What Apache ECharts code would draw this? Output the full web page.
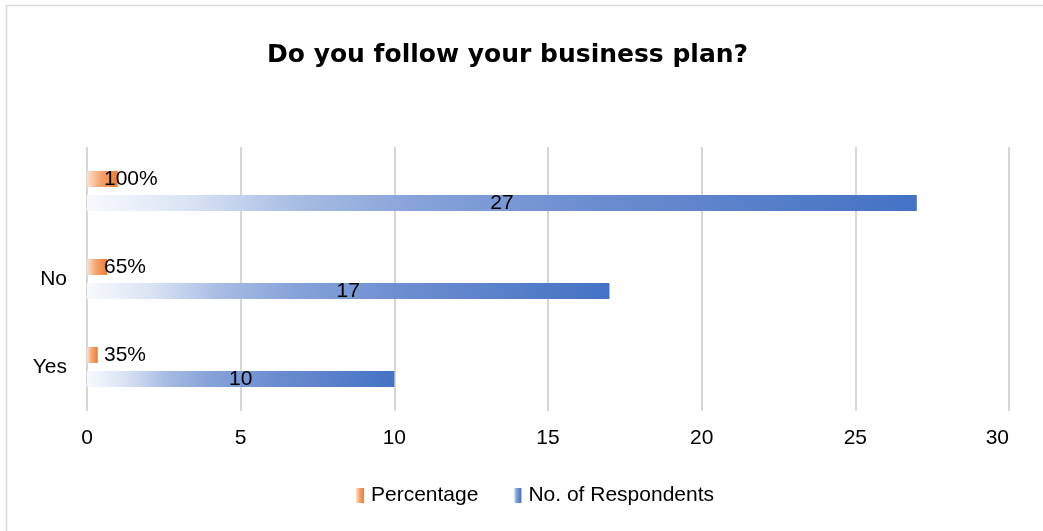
<!DOCTYPE html>
<html>
<head>
<meta charset="utf-8">
<script src="https://cdn.jsdelivr.net/npm/echarts@6/dist/echarts.min.js"></script>
<style>
  html, body { margin: 0; padding: 0; background: #fff; }
  #chart { width: 1043px; height: 531px; }
</style>
</head>
<body>
<div id="chart"></div>
<script>
// Survey answers to "Do you follow your business plan?"
const categories = ['Yes', 'No', ''];
const percentage = [0.35, 0.65, 1.0];
const respondents = [10, 17, 27];
const xTicks = { min: 0, max: 30, interval: 5 };

const FONT = '"Liberation Sans", Arial, sans-serif';

const blueFill = new echarts.graphic.LinearGradient(0, 0, 1, 0, [
  { offset: 0, color: '#f7f9fd' },
  { offset: 0.12, color: '#dbe4f4' },
  { offset: 0.25, color: '#a9bde4' },
  { offset: 0.4, color: '#86a2d9' },
  { offset: 0.6, color: '#6d8ed0' },
  { offset: 1, color: '#4472c4' }
]);
const orangeFill = new echarts.graphic.LinearGradient(0, 0, 1, 0, [
  { offset: 0, color: '#fbe2d0' },
  { offset: 0.45, color: '#f3a46e' },
  { offset: 1, color: '#ed7d31' }
]);

const chart = echarts.init(document.getElementById('chart'));
chart.setOption({
  animation: false,
  backgroundColor: '#ffffff',
  graphic: [{
    type: 'rect',
    shape: { x: 6.5, y: 5.5, width: 1060, height: 560 },
    style: { fill: 'none', stroke: '#d9d9d9', lineWidth: 1.5 },
    silent: true
  }],
  title: {
    text: 'Do you follow your business plan?',
    left: 262,
    top: 38,
    textStyle: { fontFamily: '"DejaVu Sans", sans-serif', fontWeight: 'bold', fontSize: 25, color: '#000' }
  },
  grid: { left: 87, right: 34, top: 147, bottom: 120, containLabel: false },
  legend: {
    data: ['Percentage', 'No. of Respondents'],
    bottom: 20,
    left: 351,
    icon: 'rect',
    itemWidth: 8,
    itemHeight: 15,
    itemGap: 35,
    textStyle: { fontFamily: FONT, fontSize: 21, color: '#000', padding: [0, 0, 0, 2] }
  },
  xAxis: {
    type: 'value',
    min: xTicks.min,
    max: xTicks.max,
    interval: xTicks.interval,
    axisLine: { show: false },
    axisTick: { show: false },
    splitLine: { show: true, lineStyle: { color: '#d6d6d6', width: 2 } },
    axisLabel: { fontFamily: FONT, fontSize: 21, color: '#000', margin: 17, alignMaxLabel: 'right' }
  },
  yAxis: {
    type: 'category',
    data: categories,
    axisLine: { show: false },
    axisTick: { show: false },
    axisLabel: { fontFamily: FONT, fontSize: 21, color: '#000', margin: 20 }
  },
  series: [
    {
      name: 'Percentage',
      type: 'bar',
      data: percentage,
      barWidth: 16,
      barGap: '50%',
      itemStyle: { color: orangeFill },
      label: {
        show: true,
        position: [17, 8],
        verticalAlign: 'middle',
        align: 'left',
        fontFamily: FONT,
        fontSize: 21,
        color: '#000',
        formatter: (p) => Math.round(p.value * 100) + '%'
      }
    },
    {
      name: 'No. of Respondents',
      type: 'bar',
      data: respondents,
      barWidth: 16,
      barGap: '50%',
      itemStyle: { color: blueFill },
      label: {
        show: true,
        position: 'inside',
        fontFamily: FONT,
        fontSize: 21,
        color: '#000'
      }
    }
  ]
});
</script>
</body>
</html>
